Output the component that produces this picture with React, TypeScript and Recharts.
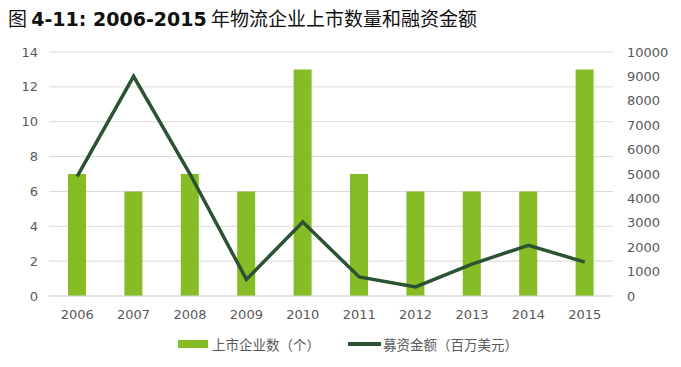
import React from "react";
import { Bar, CartesianGrid, ComposedChart, Line, XAxis, YAxis } from "recharts";

const years = ["2006", "2007", "2008", "2009", "2010", "2011", "2012", "2013", "2014", "2015"];
const listedCount = [7, 6, 7, 6, 13, 7, 6, 6, 6, 13];
const fundsRaised = [4900, 9000, 5000, 680, 3030, 780, 370, 1310, 2080, 1390];
const leftTicks = [0, 2, 4, 6, 8, 10, 12, 14];
const rightTicks = [0, 1000, 2000, 3000, 4000, 5000, 6000, 7000, 8000, 9000, 10000];

const BAR = "#86bc25";
const LINE = "#2c5234";
const TEXT = "#595959";
const NUM_FONT = "Verdana, 'DejaVu Sans', sans-serif";
const CJK_FONT = "'Noto Sans CJK SC', 'DejaVu Sans', sans-serif";

const data = years.map((y, i) => ({ year: y, count: listedCount[i], funds: fundsRaised[i] }));

export default function App() {
  const tick = { fontSize: 13, fill: TEXT, fontFamily: NUM_FONT };
  return (
    <div style={{ position: "fixed", left: 0, top: 0, width: 681, height: 367, background: "#fff" }}>
      <div
        style={{
          position: "absolute",
          left: 8,
          top: 6,
          fontSize: 19,
          color: "#111",
          fontFamily: CJK_FONT,
          whiteSpace: "nowrap",
          lineHeight: "24px",
        }}
      >
        图 <b style={{ fontFamily: NUM_FONT }}>4-11: 2006-2015</b> 年物流企业上市数量和融资金额
      </div>
      <ComposedChart
        width={681}
        height={367}
        data={data}
        margin={{ top: 52, right: 8, bottom: 41, left: 8 }}
        barCategoryGap="34%"
      >
        <CartesianGrid yAxisId="left" vertical={false} stroke="#d9d9d9" strokeWidth={1} />
        <XAxis
          dataKey="year"
          axisLine={{ stroke: "#d9d9d9" }}
          tickLine={false}
          tick={tick}
          tickMargin={8}
          height={30}
          interval={0}
        />
        <YAxis
          yAxisId="left"
          domain={[0, 14]}
          ticks={leftTicks}
          axisLine={false}
          tickLine={false}
          tickSize={0}
          tickMargin={11}
          tick={tick}
          width={41}
        />
        <YAxis
          yAxisId="right"
          orientation="right"
          domain={[0, 10000]}
          ticks={rightTicks}
          axisLine={false}
          tickLine={false}
          tickSize={0}
          tickMargin={14}
          tick={{ ...tick, textAnchor: "start" }}
          width={60}
        />
        <Bar yAxisId="left" dataKey="count" fill={BAR} barSize={18} isAnimationActive={false} />
        <Line
          yAxisId="right"
          dataKey="funds"
          stroke={LINE}
          strokeWidth={3.5}
          dot={false}
          type="linear"
          isAnimationActive={false}
        />
      </ComposedChart>
      <div
        style={{
          position: "absolute",
          top: 334,
          left: 178,
          display: "flex",
          alignItems: "center",
          fontSize: 13.5,
          color: TEXT,
          fontFamily: CJK_FONT,
          whiteSpace: "nowrap",
        }}
      >
        <span style={{ display: "inline-block", width: 30, height: 8, background: BAR, marginRight: 4 }} />
        <span>上市企业数（个）</span>
        <span
          style={{ display: "inline-block", width: 33, height: 3.5, background: LINE, marginLeft: 28, marginRight: 2 }}
        />
        <span>募资金额（百万美元）</span>
      </div>
    </div>
  );
}
